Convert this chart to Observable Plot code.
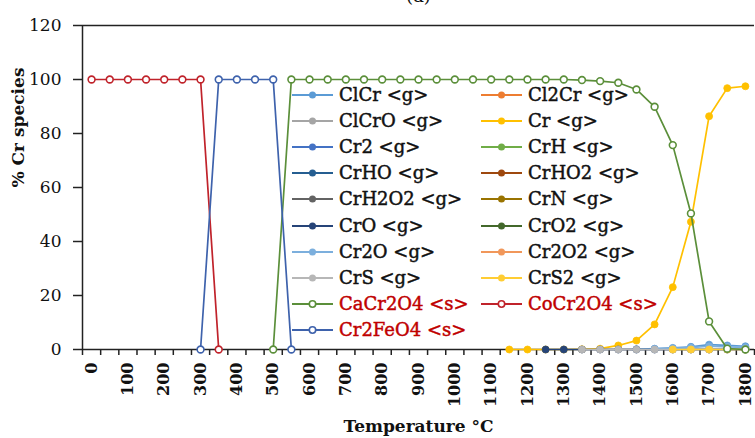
<!DOCTYPE html>
<html><head><meta charset="utf-8">
<script src="https://cdn.jsdelivr.net/npm/d3@7"></script>
<script src="https://cdn.jsdelivr.net/npm/@observablehq/plot@0.6"></script>
<style>
body{margin:0;background:#fff;}
#wrap{position:relative;width:755px;height:438px;overflow:hidden;font-family:"DejaVu Serif",serif;}
.leg{position:absolute;display:flex;align-items:center;font-size:18px;white-space:nowrap;line-height:1;}
.leg svg{flex:none;}
.leg span{margin-left:6px;-webkit-text-stroke:0.45px currentColor;}
</style></head><body><div id="wrap"></div>
<script>
const N = null;
// Temperature categories (°C)
const temps = [0,50,100,150,200,250,300,350,400,450,500,550,600,650,700,750,800,850,900,950,1000,1050,1100,1150,1200,1250,1300,1350,1400,1450,1500,1550,1600,1650,1700,1750,1800];
const gasTemps = [1150,1200,1250,1300,1350,1400,1450,1500,1550,1600,1650,1700,1750,1800];
const xTickLabels = [0,100,200,300,400,500,600,700,800,900,1000,1100,1200,1300,1400,1500,1600,1700,1800];
const yTickLabels = [0,20,40,60,80,100,120];

// Series names (legend order) and colours
const names = ["ClCr <g>","Cl2Cr <g>","ClCrO <g>","Cr <g>","Cr2 <g>","CrH <g>","CrHO <g>","CrHO2 <g>","CrH2O2 <g>","CrN <g>","CrO <g>","CrO2 <g>","Cr2O <g>","Cr2O2 <g>","CrS <g>","CrS2 <g>","CaCr2O4 <s>","CoCr2O4 <s>","Cr2FeO4 <s>"];
const colors = ["#5B9BD5","#ED7D31","#A5A5A5","#FFC000","#4472C4","#70AD47","#255E91","#9E480E","#636363","#997300","#264478","#43682B","#7CAFDD","#F1975A","#B7B7B7","#FFCD33","#5B8F3A","#C0232B","#3E62AC"];
const solid = [false,false,false,false,false,false,false,false,false,false,false,false,false,false,false,false,true,true,true];

// Gas species (% Cr) over gasTemps
const ClCr   = [N,N,N,N,N,N,N,0.1,0.3,0.6,1.0,1.8,1.5,1.2];
const Cl2Cr  = [N,N,N,N,N,N,N,N,N,N,N,N,N,N];
const ClCrO  = [N,N,N,N,N,N,N,N,N,N,N,N,N,N];
const Cr     = [0,0,0,0,0.1,0.3,1.5,3.3,9.3,23.1,47.3,86.4,96.8,97.5];
const Cr2    = [N,N,N,N,N,N,N,N,N,N,N,N,N,N];
const CrH    = [N,N,N,N,N,N,N,N,N,N,N,N,N,N];
const CrHO   = [N,N,N,N,N,N,N,N,N,N,N,N,N,N];
const CrHO2  = [N,N,N,N,N,N,N,N,N,N,N,N,N,N];
const CrH2O2 = [N,N,N,N,N,N,N,N,N,N,N,N,N,N];
const CrN    = [N,N,N,N,N,N,N,N,N,N,N,N,N,N];
const CrO    = [N,N,0,0,0,0,0,0,0,0,0,0,0,0];
const CrO2   = [N,N,N,N,N,N,N,N,N,N,N,N,N,N];
const Cr2O   = [N,N,N,N,N,N,N,N,0.2,0.4,0.7,1.2,1.0,0.8];
const Cr2O2  = [N,N,N,N,N,N,N,N,N,N,N,N,N,N];
const CrS    = [N,N,N,N,0,0,0,0,0,0,0,0,0,0];
const CrS2   = [N,N,N,N,N,N,N,N,N,0,0,0,0,0];
// Solid species (% Cr) over temps
const CaCr2O4 = [N,N,N,N,N,N,N,N,N,N,0,100,100,100,100,100,100,100,100,100,100,100,100,100,100,100,100,99.8,99.4,98.8,96.3,89.9,75.7,50.4,10.4,0.3,0];
const CoCr2O4 = [100,100,100,100,100,100,100,0,N,N,N,N,N,N,N,N,N,N,N,N,N,N,N,N,N,N,N,N,N,N,N,N,N,N,N,N,N];
const Cr2FeO4 = [N,N,N,N,N,N,0,100,100,100,100,0,N,N,N,N,N,N,N,N,N,N,N,N,N,N,N,N,N,N,N,N,N,N,N,N,N];

const seriesValues = [ClCr,Cl2Cr,ClCrO,Cr,Cr2,CrH,CrHO,CrHO2,CrH2O2,CrN,CrO,CrO2,Cr2O,Cr2O2,CrS,CrS2,CaCr2O4,CoCr2O4,Cr2FeO4];

const marks = [];
seriesValues.forEach((vals, i) => {
  const xs = solid[i] ? temps : gasTemps;
  const data = xs.map((t, j) => ({t, v: vals[j]})).filter(d => d.v != null);
  if (!data.length) return;
  marks.push(Plot.line(data, {x: "t", y: "v", stroke: colors[i], strokeWidth: 1.7}));
  marks.push(Plot.dot(data, {x: "t", y: "v", r: solid[i] ? 3.4 : 3.5,
    fill: solid[i] ? "white" : colors[i], stroke: colors[i], strokeWidth: solid[i] ? 1.6 : 0.8}));
});

const boundaries = d3.range(-25, 1826, 50);

const chart = Plot.plot({
  width: 755, height: 438,
  marginLeft: 82, marginRight: 1, marginTop: 25, marginBottom: 89,
  style: {fontFamily: "'DejaVu Serif', serif", background: "white", color: "#111"},
  x: {type: "linear", domain: [-25, 1825]},
  y: {domain: [0, 120]},
  marks: [
    Plot.axisY({ticks: yTickLabels, tickSize: 9, tickPadding: 12, fontSize: 17, label: null, stroke: "#222", strokeWidth: 1.5}),
    Plot.axisX({ticks: boundaries, tickSize: 6, tickFormat: () => "", label: null, stroke: "#222", strokeWidth: 1.5}),
    Plot.axisX({ticks: xTickLabels, tickSize: 0, tickPadding: 13, tickRotate: -90, tickFormat: d => String(d), fontSize: 16, fontWeight: "bold", label: null}),
    Plot.ruleX([-25], {stroke: "#222", strokeWidth: 1.5}),
    Plot.ruleY([0], {stroke: "#222", strokeWidth: 1.5}),
    Plot.ruleY([120], {stroke: "#222", strokeWidth: 1.5}),
    Plot.text(["% Cr species"], {frameAnchor: "left", dx: -64, rotate: -90, fontSize: 17, fontWeight: "bold", fill: "#111"}),
    Plot.text(["Temperature °C"], {frameAnchor: "bottom", dy: 82, fontSize: 17, fontWeight: "bold", fill: "#111"}),
    Plot.text(["(a)"], {frameAnchor: "top", dy: -36, fontSize: 18, fill: "#111"}),
    ...marks
  ]
});
const wrap = document.getElementById("wrap");
wrap.appendChild(chart);

// Legend (two columns, row-wise)
names.forEach((name, i) => {
  const col = i % 2, row = Math.floor(i / 2);
  const left = col === 0 ? 292 : 481;
  const cy = 95 + row * 26.1;
  const div = document.createElement("div");
  div.className = "leg";
  div.style.left = left + "px";
  div.style.top = (cy - 10) + "px";
  div.style.height = "20px";
  const c = colors[i];
  const circ = solid[i]
    ? `<circle cx="20.5" cy="10" r="3.2" fill="white" stroke="${c}" stroke-width="1.6"/>`
    : `<circle cx="20.5" cy="10" r="3.5" fill="${c}"/>`;
  div.innerHTML = `<svg width="41" height="20"><line x1="0" x2="41" y1="10" y2="10" stroke="${c}" stroke-width="1.8"/>${circ}</svg><span style="color:${solid[i] ? '#C00000' : '#111'}"></span>`;
  div.querySelector("span").textContent = name;
  wrap.appendChild(div);
});
</script></body></html>
